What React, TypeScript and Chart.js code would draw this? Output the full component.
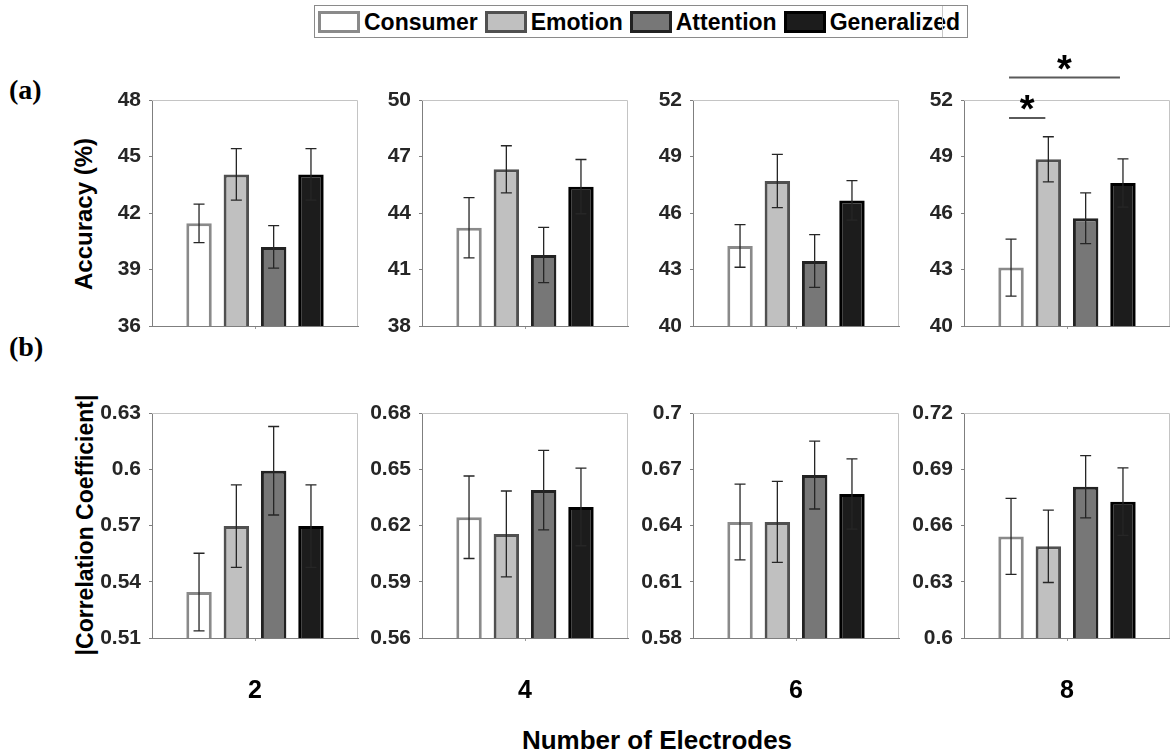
import React, { useEffect, useRef } from 'react';
import { Chart, registerables } from 'chart.js';

Chart.register(...registerables);

// ---------------- data ----------------
const electrodeLabels = ['2', '4', '6', '8'];
const methodNames = ['Consumer', 'Emotion', 'Attention', 'Generalized'];

// Accuracy (%) means, one entry per electrode count
const accConsumer = [41.45, 43.22, 44.25, 43.1];
const accEmotion = [44.05, 46.32, 47.7, 48.85];
const accAttention = [40.2, 41.77, 43.45, 45.72];
const accGeneralized = [44.05, 45.4, 46.67, 47.59];
// Accuracy error bars (+/-)
const accErrConsumer = [1.02, 1.6, 1.13, 1.51];
const accErrEmotion = [1.37, 1.25, 1.41, 1.2];
const accErrAttention = [1.13, 1.47, 1.4, 1.35];
const accErrGeneralized = [1.37, 1.44, 1.05, 1.28];

// |Correlation Coefficient| means
const corrConsumer = [0.5345, 0.6244, 0.6419, 0.6542];
const corrEmotion = [0.5697, 0.6155, 0.6419, 0.6489];
const corrAttention = [0.5992, 0.6389, 0.6669, 0.6807];
const corrGeneralized = [0.5697, 0.6299, 0.6568, 0.6727];
// correlation error bars (+/-)
const corrErrConsumer = [0.0207, 0.022, 0.0202, 0.0203];
const corrErrEmotion = [0.022, 0.0229, 0.0216, 0.0193];
const corrErrAttention = [0.0236, 0.0212, 0.0181, 0.0166];
const corrErrGeneralized = [0.022, 0.0207, 0.0187, 0.018];

// y tick labels per panel
const accTicks = [
  [36, 39, 42, 45, 48],
  [38, 41, 44, 47, 50],
  [40, 43, 46, 49, 52],
  [40, 43, 46, 49, 52],
];
const corrTicks = [
  [0.51, 0.54, 0.57, 0.6, 0.63],
  [0.56, 0.59, 0.62, 0.65, 0.68],
  [0.58, 0.61, 0.64, 0.67, 0.7],
  [0.6, 0.63, 0.66, 0.69, 0.72],
];

// significance markers (accuracy, 8 electrodes)
const sigPanel = 3;
const sigPairs = [
  [0, 1],
  [0, 3],
];
const sigLevels = [51.05, 53.2];
const sigMark = '*';

// ---------------- styles ----------------
const SANS = "'Liberation Sans', Arial, Helvetica, sans-serif";
const NARROW = "'Liberation Sans Narrow', 'Arial Narrow', 'Liberation Sans', sans-serif";
const SERIF = "'Liberation Serif', 'Times New Roman', serif";
const FILLS = ['#ffffff', '#c0c0c0', '#777777', '#1c1c1c'];
const STROKES = ['#8a8a8a', '#505050', '#222222', '#000000'];

const PANEL_LEFT = [152, 422, 693, 964];
const PW = 206;
const AXW = 70;

const framePlugin = {
  id: 'frame',
  beforeDatasetsDraw(chart: any) {
    const { ctx, chartArea } = chart;
    ctx.save();
    ctx.strokeStyle = '#c4c4c4';
    ctx.lineWidth = 1;
    ctx.beginPath();
    ctx.moveTo(chartArea.left, chartArea.top + 0.5);
    ctx.lineTo(chartArea.right - 0.5, chartArea.top + 0.5);
    ctx.lineTo(chartArea.right - 0.5, chartArea.bottom);
    ctx.stroke();
    ctx.restore();
  },
};

const errorBarPlugin = {
  id: 'errbars',
  afterDatasetsDraw(chart: any) {
    const ctx = chart.ctx;
    const ys = chart.scales.y;
    chart.data.datasets.forEach((ds: any, i: number) => {
      const bar = chart.getDatasetMeta(i).data[0];
      const v = ds.data[0];
      const e = ds.errs[0];
      const x = bar.x;
      const y1 = ys.getPixelForValue(v + e);
      const y2 = ys.getPixelForValue(v - e);
      ctx.save();
      ctx.strokeStyle = '#262626';
      ctx.lineWidth = 1.3;
      ctx.beginPath();
      ctx.moveTo(x, y1);
      ctx.lineTo(x, y2);
      ctx.moveTo(x - 5.5, y1);
      ctx.lineTo(x + 5.5, y1);
      ctx.moveTo(x - 5.5, y2);
      ctx.lineTo(x + 5.5, y2);
      ctx.stroke();
      ctx.restore();
    });
  },
};

const sigPlugin = {
  id: 'sig',
  afterDatasetsDraw(chart: any) {
    const ctx = chart.ctx;
    const ys = chart.scales.y;
    sigPairs.forEach(([a, b], k) => {
      const xa = chart.getDatasetMeta(a).data[0].x - 2;
      const xb = chart.getDatasetMeta(b).data[0].x - 3;
      const yy = ys.getPixelForValue(sigLevels[k]);
      ctx.save();
      ctx.strokeStyle = '#5a5a5a';
      ctx.lineWidth = 2;
      ctx.beginPath();
      ctx.moveTo(xa, yy);
      ctx.lineTo(xb, yy);
      ctx.stroke();
      ctx.font = `bold 38px ${SANS}`;
      ctx.fillStyle = '#000';
      ctx.textAlign = 'center';
      ctx.textBaseline = 'alphabetic';
      const m = ctx.measureText(sigMark);
      const cy = yy - 15;
      const base = cy + (m.actualBoundingBoxAscent - m.actualBoundingBoxDescent) / 2;
      ctx.fillText(sigMark, (xa + xb) / 2, base);
      ctx.restore();
    });
  },
};

function fmt(v: number) {
  return String(Math.round(v * 1000) / 1000);
}

function Panel({ row, idx }: { row: number; idx: number }) {
  const ref = useRef<HTMLCanvasElement | null>(null);
  const isTop = row === 0;
  const padTop = isTop ? 60 : 28;
  const top = isTop ? 40 : 413 - padTop;
  const xAxisH = isTop ? 28 : 75;
  const plotH = isTop ? 226 : 225;
  const height = padTop + plotH + xAxisH;
  const width = AXW + PW + 4;

  useEffect(() => {
    const means = isTop
      ? [accConsumer[idx], accEmotion[idx], accAttention[idx], accGeneralized[idx]]
      : [corrConsumer[idx], corrEmotion[idx], corrAttention[idx], corrGeneralized[idx]];
    const errs = isTop
      ? [accErrConsumer[idx], accErrEmotion[idx], accErrAttention[idx], accErrGeneralized[idx]]
      : [corrErrConsumer[idx], corrErrEmotion[idx], corrErrAttention[idx], corrErrGeneralized[idx]];
    const ticks = isTop ? accTicks[idx] : corrTicks[idx];

    const plugins: any[] = [framePlugin, errorBarPlugin];
    if (isTop && idx === sigPanel) plugins.push(sigPlugin);

    const chart = new Chart(ref.current as HTMLCanvasElement, {
      type: 'bar',
      data: {
        labels: [electrodeLabels[idx]],
        datasets: methodNames.map((name, k) => ({
          label: name,
          data: [means[k]],
          errs: [errs[k]],
          backgroundColor: FILLS[k],
          borderColor: STROKES[k],
          borderWidth: 3,
          borderSkipped: false,
          categoryPercentage: 0.7245,
          barPercentage: 0.682,
        })) as any,
      },
      options: {
        responsive: false,
        animation: false,
        devicePixelRatio: 1,
        layout: { padding: { top: padTop, right: 4, left: 0, bottom: 0 } },
        plugins: { legend: { display: false }, tooltip: { enabled: false } },
        scales: {
          x: {
            type: 'category',
            offset: true,
            grid: {
              offset: false,
              drawOnChartArea: false,
              drawTicks: true,
              tickLength: 3,
              color: '#9a9a9a',
            },
            border: { color: '#7f7f7f', width: 1 },
            ticks: {
              display: !isTop,
              font: { family: SANS, size: 25, weight: 'bold' },
              color: '#000',
              padding: 35,
            },
            afterFit: (s: any) => {
              s.height = xAxisH;
            },
          } as any,
          y: {
            min: ticks[0],
            max: ticks[ticks.length - 1],
            afterBuildTicks: (s: any) => {
              s.ticks = ticks.map((v) => ({ value: v }));
            },
            grid: {
              drawOnChartArea: false,
              drawTicks: true,
              tickLength: 3,
              color: '#7f7f7f',
            },
            border: { color: '#7f7f7f', width: 1 },
            ticks: {
              callback: (v: any) => fmt(Number(v)),
              font: { family: NARROW, size: 21, weight: 'bold' },
              color: '#262626',
              padding: 8,
            },
            afterFit: (s: any) => {
              s.width = AXW;
            },
          } as any,
        },
      },
      plugins,
    } as any);
    return () => chart.destroy();
  }, []);

  return (
    <canvas
      ref={ref}
      width={width}
      height={height}
      style={{
        position: 'absolute',
        left: PANEL_LEFT[idx] - AXW,
        top,
        width,
        height,
      }}
    />
  );
}

function Legend() {
  return (
    <div
      style={{
        position: 'absolute',
        left: 314,
        top: 5,
        height: 31,
        border: '1px solid #8a8a8a',
        display: 'flex',
        alignItems: 'center',
        paddingLeft: 3,
        paddingRight: 7,
        gap: 7,
        background: '#fff',
      }}
    >
      {methodNames.map((name, k) => (
        <div key={name} style={{ display: 'flex', alignItems: 'center', gap: 4 }}>
          <div
            style={{
              width: 36,
              height: 16,
              background: FILLS[k],
              border: `3px solid ${STROKES[k]}`,
            }}
          />
          <span
            style={{
              font: `bold 23px ${SANS}`,
              color: '#000',
              lineHeight: '26px',
              whiteSpace: 'nowrap',
            }}
          >
            {name}
          </span>
        </div>
      ))}
      <div
        style={{
          position: 'absolute',
          left: 627,
          top: 0,
          width: 1,
          height: 31,
          background: '#c8c8c8',
        }}
      />
    </div>
  );
}

export default function App() {
  const rotated = (text: string, cx: number, cy: number, size: number) => (
    <div
      style={{
        position: 'absolute',
        left: cx,
        top: cy,
        transform: 'translate(-50%, -50%) rotate(-90deg)',
        font: `bold ${size}px ${SANS}`,
        color: '#000',
        whiteSpace: 'nowrap',
        lineHeight: '26px',
      }}
    >
      {text}
    </div>
  );
  return (
    <div
      style={{
        position: 'fixed',
        left: 0,
        top: 0,
        width: 1170,
        height: 755,
        background: '#fff',
        overflow: 'hidden',
      }}
    >
      <Legend />
      <div
        style={{
          position: 'absolute',
          left: 9,
          top: 76,
          font: `bold 28px ${SERIF}`,
          lineHeight: '28px',
          color: '#000',
        }}
      >
        (a)
      </div>
      <div
        style={{
          position: 'absolute',
          left: 9,
          top: 333,
          font: `bold 28px ${SERIF}`,
          lineHeight: '28px',
          color: '#000',
        }}
      >
        (b)
      </div>
      {rotated('Accuracy (%)', 84, 214, 24)}
      {rotated('|Correlation Coefficient|', 85, 525, 23)}
      {[0, 1, 2, 3].map((i) => (
        <Panel key={'t' + i} row={0} idx={i} />
      ))}
      {[0, 1, 2, 3].map((i) => (
        <Panel key={'b' + i} row={1} idx={i} />
      ))}
      <div
        style={{
          position: 'absolute',
          left: 657,
          top: 727,
          transform: 'translateX(-50%)',
          font: `bold 26px ${SANS}`,
          lineHeight: '26px',
          color: '#000',
          whiteSpace: 'nowrap',
        }}
      >
        Number of Electrodes
      </div>
    </div>
  );
}
